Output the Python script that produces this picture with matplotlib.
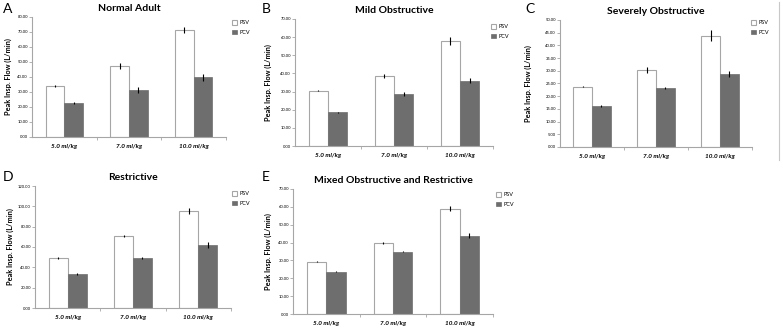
import matplotlib
matplotlib.use("Agg")
import matplotlib.pyplot as plt
import numpy as np

plt.rcParams["font.family"] = ["Lato", "DejaVu Sans"]

doses = ["5.0 ml/kg", "7.0 ml/kg", "10.0 ml/kg"]
series = ["PSV", "PCV"]

titles = ["Normal Adult", "Mild Obstructive", "Severely Obstructive",
          "Restrictive", "Mixed Obstructive and Restrictive"]
letters = ["A", "B", "C", "D", "E"]

psv_a = [34.0, 47.0, 71.5]
pcv_a = [22.7, 31.5, 39.8]
psv_a_err = [0.4, 2.0, 2.0]
pcv_a_err = [0.4, 2.0, 2.2]

psv_b = [30.5, 38.5, 57.8]
pcv_b = [18.5, 28.5, 36.0]
psv_b_err = [0.3, 1.2, 2.2]
pcv_b_err = [0.3, 1.2, 1.3]

psv_c = [23.8, 30.4, 43.8]
pcv_c = [16.1, 23.3, 28.8]
psv_c_err = [0.3, 1.1, 2.2]
pcv_c_err = [0.3, 0.4, 1.3]

psv_d = [49.0, 70.8, 95.0]
pcv_d = [33.0, 49.2, 62.0]
psv_d_err = [1.0, 1.2, 3.0]
pcv_d_err = [1.0, 1.0, 3.0]

psv_e = [29.3, 39.8, 59.0]
pcv_e = [23.7, 35.0, 43.8]
psv_e_err = [0.3, 0.5, 1.3]
pcv_e_err = [0.4, 0.5, 1.3]

y_max = [80, 70, 50, 120, 70]
y_step = [10, 10, 5, 20, 10]

psv_all = [psv_a, psv_b, psv_c, psv_d, psv_e]
pcv_all = [pcv_a, pcv_b, pcv_c, pcv_d, pcv_e]
psv_err_all = [psv_a_err, psv_b_err, psv_c_err, psv_d_err, psv_e_err]
pcv_err_all = [pcv_a_err, pcv_b_err, pcv_c_err, pcv_d_err, pcv_e_err]

W, H = 783, 329
# axes boxes in pixels: left, right, top, bottom
boxes = [(32, 226, 17, 137), (295, 493, 19, 146), (560, 752, 20, 147),
         (35, 231, 186, 308), (293, 493, 189, 314)]
letter_pos = [(8, 9), (266, 9), (530, 9), (8, 177), (266, 177)]
ylab_x = [12, 272, 532, 14, 272]
legend_pos = [(232, 20), (491, 24), (751, 20), (232, 191), (496, 192)]

fig = plt.figure(figsize=(W / 100, H / 100), dpi=100)
gray = "#a6a6a6"
x = np.arange(len(doses))
bw = 0.29
ekw = dict(ecolor="black", elinewidth=0.8, capsize=0)

for i in range(5):
    l, r, t, b = boxes[i]
    ax = fig.add_axes([l / W, 1 - b / H, (r - l) / W, (b - t) / H])
    ax.bar(x - bw / 2, psv_all[i], bw, color="white", edgecolor=gray, linewidth=0.8,
           yerr=psv_err_all[i], error_kw=ekw, label=series[0])
    ax.bar(x + bw / 2, pcv_all[i], bw, color="#6e6e6e", edgecolor="#6e6e6e", linewidth=0.5,
           yerr=pcv_err_all[i], error_kw=ekw, label=series[1])
    ax.set_xlim(-0.5, 2.5)
    ax.set_ylim(0, y_max[i])
    ticks = np.arange(0, y_max[i] + 0.1, y_step[i])
    ax.set_yticks(ticks)
    ax.set_yticklabels(["%.2f" % v for v in ticks], fontsize=3)
    ax.set_xticks(x)
    ax.set_xticklabels(doses, fontsize=4.6, fontweight="bold", fontstyle="italic")
    ax.set_xticks([0.5, 1.5, 2.5], minor=True)
    ax.tick_params(axis="x", which="major", length=0, pad=5)
    ax.tick_params(axis="x", which="minor", length=2, color=gray, width=0.6)
    ax.tick_params(axis="y", length=2, color=gray, width=0.6, pad=1)
    for s in ["top", "right"]:
        ax.spines[s].set_visible(False)
    for s in ["left", "bottom"]:
        ax.spines[s].set_color(gray)
        ax.spines[s].set_linewidth(0.8)
    ax.set_ylabel("Peak Insp. Flow (L/min)", fontsize=5.3, fontweight="bold")
    ax.yaxis.set_label_coords(ylab_x[i] / W, 1 - (t + b) / 2 / H, transform=fig.transFigure)
    ax.set_title(titles[i], fontsize=7.5, fontweight="bold", pad=4)
    lx, ly = legend_pos[i]
    ax.legend(loc="upper left", bbox_to_anchor=(lx / W, 1 - ly / H), bbox_transform=fig.transFigure,
              frameon=False, fontsize=4, handlelength=0.9, handleheight=0.9, handletextpad=0.4,
              labelspacing=0.8, borderpad=0, borderaxespad=0)
    fig.text(letter_pos[i][0] / W, 1 - letter_pos[i][1] / H, letters[i], fontsize=10,
             ha="center", va="center")

fig.add_artist(plt.Line2D([779 / W, 779 / W], [1 - 2 / H, 1 - 160 / H], color="#c8c8c8", linewidth=0.8))

fig.savefig("out.png", dpi=100)
